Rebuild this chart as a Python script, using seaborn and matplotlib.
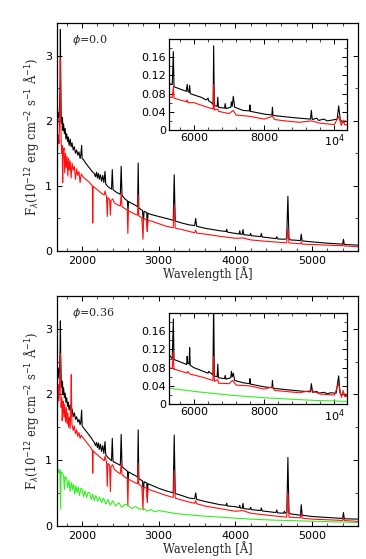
import matplotlib
matplotlib.use("Agg")
import matplotlib.pyplot as plt
import seaborn as sns
from matplotlib.ticker import MultipleLocator, FixedLocator, FixedFormatter

# ---- panel 1 (phi = 0.0), UV/optical ----
wl_black_0 = [1675, 1680, 1690, 1700, 1708, 1714, 1718, 1722, 1728, 1735, 1745, 1752, 1760, 1770,
              1780, 1790, 1800, 1812, 1820, 1832, 1845, 1858, 1870, 1885, 1900, 1915, 1930, 1945,
              1960, 1975, 1985, 1995, 2002, 2020, 2040, 2060, 2080, 2100, 2120, 2140, 2160, 2175,
              2190, 2200, 2215, 2225, 2240, 2255, 2270, 2285, 2300, 2310, 2330, 2345, 2385, 2395,
              2405, 2450, 2500, 2511, 2522, 2560, 2592, 2600, 2608, 2650, 2700, 2725, 2733, 2741,
              2790, 2800, 2810, 2845, 2852, 2860, 2900, 3000, 3100, 3190, 3203, 3216, 3300, 3400,
              3470, 3483, 3496, 3600, 3700, 3800, 3880, 3888, 3896, 4000, 4050, 4058, 4066, 4090,
              4100, 4110, 4190, 4200, 4210, 4330, 4340, 4350, 4530, 4541, 4552, 4640, 4670, 4686,
              4700, 4720, 4850, 4860, 4872, 5000, 5200, 5400, 5411, 5422, 5600]
fl_black_0 = [2.02, 1.90, 2.12, 2.05, 2.25, 2.60, 3.40, 2.70, 2.10, 1.95, 2.05, 1.85, 1.95, 1.80,
              1.88, 1.72, 1.80, 1.68, 1.75, 1.62, 1.72, 1.60, 1.66, 1.55, 1.60, 1.50, 1.55, 1.47,
              1.52, 1.42, 1.48, 1.62, 1.42, 1.40, 1.36, 1.33, 1.30, 1.27, 1.24, 1.21, 1.19, 1.14,
              1.21, 1.12, 1.19, 1.10, 1.17, 1.07, 1.16, 1.05, 1.22, 1.03, 1.00, 0.98, 0.95, 1.25,
              0.94, 0.90, 0.87, 1.30, 0.85, 0.80, 0.77, 0.62, 0.76, 0.73, 0.70, 0.68, 1.35, 0.66,
              0.62, 0.42, 0.61, 0.59, 0.30, 0.58, 0.56, 0.53, 0.50, 0.47, 1.17, 0.46, 0.43, 0.40,
              0.39, 0.50, 0.38, 0.35, 0.33, 0.31, 0.30, 0.33, 0.29, 0.27, 0.26, 0.31, 0.26, 0.255,
              0.33, 0.25, 0.24, 0.27, 0.235, 0.22, 0.27, 0.215, 0.19, 0.22, 0.185, 0.18, 0.19, 0.84,
              0.19, 0.17, 0.16, 0.26, 0.155, 0.14, 0.12, 0.105, 0.18, 0.10, 0.09]

wl_red_0 = [1675, 1680, 1690, 1700, 1708, 1714, 1718, 1722, 1728, 1735, 1742, 1748, 1754, 1765,
            1775, 1785, 1795, 1805, 1815, 1825, 1835, 1845, 1858, 1870, 1885, 1900, 1915, 1930,
            1945, 1960, 1975, 1990, 2000, 2020, 2040, 2060, 2080, 2100, 2120, 2135, 2140, 2146,
            2170, 2200, 2230, 2260, 2290, 2300, 2320, 2330, 2338, 2360, 2370, 2378, 2400, 2420,
            2460, 2500, 2511, 2522, 2560, 2590, 2598, 2606, 2650, 2700, 2725, 2733, 2741, 2780,
            2796, 2804, 2840, 2852, 2860, 2900, 3000, 3100, 3190, 3203, 3216, 3300, 3400, 3470,
            3483, 3496, 3600, 3800, 4000, 4100, 4200, 4340, 4500, 4670, 4686, 4700, 4850, 4860,
            4872, 5000, 5200, 5400, 5411, 5422, 5600]
fl_red_0 = [1.70, 1.55, 1.78, 1.65, 2.00, 2.30, 2.95, 2.20, 1.70, 1.50, 1.62, 1.05, 1.50, 1.58,
            1.20, 1.50, 1.28, 1.45, 1.15, 1.42, 1.24, 1.38, 1.12, 1.35, 1.24, 1.30, 1.10, 1.26,
            1.16, 1.22, 1.05, 1.18, 1.16, 1.13, 1.11, 1.09, 1.07, 1.05, 1.02, 1.00, 0.43, 0.99,
            0.97, 0.94, 0.91, 0.88, 0.86, 0.92, 0.83, 0.53, 0.82, 0.79, 0.55, 0.77, 0.80, 0.74,
            0.71, 0.69, 0.88, 0.68, 0.65, 0.63, 0.27, 0.62, 0.59, 0.56, 0.55, 0.86, 0.54, 0.51,
            0.18, 0.50, 0.48, 0.30, 0.47, 0.46, 0.42, 0.38, 0.355, 0.71, 0.35, 0.33, 0.30, 0.28,
            0.32, 0.275, 0.26, 0.225, 0.195, 0.20, 0.17, 0.155, 0.14, 0.125, 0.35, 0.125, 0.11, 0.14,
            0.105, 0.10, 0.09, 0.08, 0.10, 0.078, 0.065]

# ---- panel 1 inset (red/near-IR) ----
wl_black_0i = [5290, 5380, 5411, 5430, 5600, 5780, 5805, 5830, 5860, 5876, 5895, 6000, 6200, 6350,
               6400, 6420, 6500, 6545, 6560, 6580, 6660, 6678, 6696, 6870, 6890, 6910, 7050, 7065,
               7090, 7120, 7160, 7400, 7580, 7593, 7610, 8000, 8220, 8236, 8252, 8600, 9000, 9320,
               9345, 9370, 9500, 9550, 9700, 9800, 9950, 10080, 10124, 10170, 10250, 10300, 10360]
fl_black_0i = [0.102, 0.100, 0.172, 0.095, 0.090, 0.085, 0.100, 0.084, 0.083, 0.098, 0.080, 0.077,
               0.072, 0.066, 0.070, 0.064, 0.060, 0.056, 0.185, 0.054, 0.052, 0.072, 0.050, 0.048,
               0.058, 0.047, 0.050, 0.062, 0.052, 0.074, 0.050, 0.043, 0.042, 0.055, 0.041, 0.035,
               0.033, 0.050, 0.032, 0.029, 0.026, 0.024, 0.043, 0.023, 0.026, 0.021, 0.024, 0.020,
               0.022, 0.024, 0.053, 0.022, 0.016, 0.020, 0.018]
wl_red_0i = [5290, 5380, 5411, 5430, 5600, 5790, 5805, 5830, 6000, 6300, 6545, 6560, 6580, 6678,
             6700, 7000, 7120, 7200, 7593, 8000, 8236, 8300, 8600, 9000, 9345, 9600, 10000, 10124,
             10200, 10250, 10300, 10360]
fl_red_0i = [0.073, 0.071, 0.095, 0.070, 0.066, 0.062, 0.066, 0.060, 0.060, 0.052, 0.046, 0.100,
             0.044, 0.046, 0.041, 0.036, 0.043, 0.033, 0.030, 0.024, 0.030, 0.023, 0.020, 0.017,
             0.020, 0.015, 0.012, 0.030, 0.010, 0.022, 0.011, 0.012]

# ---- panel 2 (phi = 0.36), UV/optical ----
wl_black_1 = [1675, 1680, 1690, 1700, 1708, 1714, 1718, 1722, 1728, 1735, 1745, 1752, 1760, 1770,
              1780, 1790, 1800, 1812, 1820, 1832, 1845, 1858, 1870, 1885, 1900, 1915, 1930, 1945,
              1960, 1975, 1985, 1995, 2002, 2020, 2040, 2060, 2080, 2100, 2120, 2140, 2160, 2175,
              2190, 2200, 2215, 2225, 2240, 2255, 2270, 2285, 2300, 2310, 2330, 2345, 2385, 2395,
              2405, 2450, 2500, 2511, 2522, 2560, 2592, 2600, 2608, 2650, 2700, 2725, 2733, 2741,
              2790, 2800, 2810, 2845, 2852, 2860, 2900, 3000, 3100, 3190, 3203, 3216, 3300, 3400,
              3470, 3483, 3496, 3600, 3700, 3800, 3880, 3888, 3896, 4000, 4050, 4058, 4066, 4090,
              4100, 4110, 4190, 4200, 4210, 4330, 4340, 4350, 4530, 4541, 4552, 4630, 4640, 4650,
              4672, 4686, 4700, 4720, 4850, 4860, 4872, 5000, 5200, 5400, 5411, 5422, 5600]
fl_black_1 = [2.35, 2.20, 2.40, 2.25, 2.40, 2.70, 3.12, 2.60, 2.25, 2.10, 2.20, 2.00, 2.10, 1.95,
              2.02, 1.88, 1.95, 1.82, 1.88, 1.76, 1.84, 1.72, 1.78, 1.66, 1.72, 1.62, 1.66, 1.58,
              1.62, 1.54, 1.58, 1.76, 1.52, 1.49, 1.46, 1.43, 1.40, 1.37, 1.34, 1.30, 1.27, 1.22,
              1.27, 1.19, 1.26, 1.16, 1.24, 1.13, 1.22, 1.10, 1.28, 1.08, 1.05, 1.03, 0.99, 1.33,
              0.98, 0.95, 0.92, 1.39, 0.90, 0.86, 0.83, 0.66, 0.82, 0.79, 0.76, 0.74, 1.46, 0.72,
              0.68, 0.48, 0.67, 0.65, 0.40, 0.64, 0.62, 0.57, 0.53, 0.50, 1.38, 0.49, 0.46, 0.42,
              0.41, 0.50, 0.40, 0.37, 0.345, 0.32, 0.31, 0.34, 0.30, 0.29, 0.275, 0.31, 0.27, 0.265,
              0.34, 0.26, 0.25, 0.28, 0.245, 0.23, 0.27, 0.225, 0.20, 0.24, 0.195, 0.19, 0.22, 0.19,
              0.20, 1.04, 0.20, 0.18, 0.16, 0.32, 0.16, 0.14, 0.125, 0.11, 0.20, 0.105, 0.10]

wl_red_1 = [1675, 1680, 1690, 1700, 1708, 1714, 1718, 1722, 1728, 1735, 1742, 1748, 1754, 1765,
            1775, 1785, 1795, 1805, 1815, 1825, 1835, 1845, 1852, 1860, 1868, 1885, 1900, 1915,
            1930, 1945, 1960, 1975, 1990, 2000, 2020, 2040, 2060, 2080, 2100, 2120, 2135, 2140,
            2146, 2170, 2200, 2230, 2260, 2290, 2300, 2320, 2330, 2338, 2360, 2370, 2378, 2400,
            2420, 2460, 2500, 2511, 2522, 2560, 2590, 2598, 2606, 2650, 2700, 2725, 2733, 2741,
            2780, 2796, 2804, 2840, 2852, 2860, 2900, 3000, 3100, 3190, 3203, 3216, 3300, 3400,
            3470, 3483, 3496, 3600, 3800, 4000, 4100, 4200, 4340, 4500, 4670, 4686, 4700, 4850,
            4860, 4872, 5000, 5200, 5400, 5411, 5422, 5600]
fl_red_1 = [2.05, 1.80, 2.15, 1.90, 2.20, 2.35, 2.62, 2.10, 1.80, 1.95, 1.60, 1.75, 1.90, 1.65,
            1.85, 1.58, 1.80, 1.55, 1.72, 1.50, 1.65, 1.48, 1.70, 2.30, 1.55, 1.45, 1.52, 1.40,
            1.46, 1.36, 1.42, 1.33, 1.38, 1.36, 1.33, 1.30, 1.27, 1.24, 1.21, 1.18, 1.15, 0.80,
            1.14, 1.11, 1.08, 1.05, 1.02, 0.99, 1.06, 0.97, 0.60, 0.95, 0.92, 0.52, 0.90, 0.93,
            0.86, 0.82, 0.79, 0.95, 0.78, 0.74, 0.72, 0.30, 0.71, 0.68, 0.65, 0.64, 0.95, 0.63,
            0.60, 0.24, 0.59, 0.57, 0.35, 0.56, 0.54, 0.50, 0.46, 0.43, 0.84, 0.42, 0.39, 0.36,
            0.34, 0.38, 0.335, 0.30, 0.26, 0.22, 0.23, 0.19, 0.17, 0.15, 0.13, 0.50, 0.13, 0.12,
            0.18, 0.115, 0.10, 0.09, 0.08, 0.12, 0.078, 0.065]

wl_green_1 = [1675, 1690, 1700, 1712, 1720, 1728, 1745, 1760, 1770, 1780, 1800, 1812, 1830, 1845,
              1860, 1875, 1890, 1905, 1920, 1935, 1950, 1967, 1985, 2000, 2020, 2040, 2060, 2080,
              2100, 2120, 2140, 2160, 2180, 2205, 2230, 2255, 2280, 2310, 2340, 2370, 2400, 2440,
              2480, 2520, 2560, 2600, 2650, 2700, 2750, 2800, 2850, 2900, 2950, 3000, 3100, 3200,
              3300, 3400, 3500, 3600, 3800, 4000, 4200, 4500, 4800, 5000, 5300, 5600]
fl_green_1 = [0.88, 0.86, 0.80, 0.85, 0.25, 0.82, 0.80, 0.76, 0.55, 0.75, 0.72, 0.58, 0.69, 0.52,
              0.66, 0.55, 0.63, 0.48, 0.61, 0.50, 0.59, 0.46, 0.57, 0.56, 0.44, 0.53, 0.43, 0.51,
              0.50, 0.40, 0.48, 0.38, 0.46, 0.37, 0.44, 0.35, 0.42, 0.33, 0.40, 0.31, 0.38, 0.30,
              0.35, 0.28, 0.33, 0.31, 0.26, 0.29, 0.25, 0.27, 0.22, 0.245, 0.21, 0.23, 0.21, 0.19,
              0.175, 0.165, 0.155, 0.145, 0.13, 0.115, 0.10, 0.085, 0.075, 0.068, 0.058, 0.05]

# ---- panel 2 inset ----
wl_black_1i = [5290, 5380, 5411, 5430, 5600, 5790, 5805, 5820, 5860, 5876, 5892, 6000, 6200, 6400,
               6420, 6540, 6560, 6580, 6660, 6678, 6696, 6870, 6890, 6910, 7050, 7065, 7090, 7120,
               7160, 7400, 7580, 7593, 7610, 8000, 8220, 8236, 8252, 8600, 9000, 9320, 9345, 9380,
               9500, 9550, 9700, 9800, 9900, 10050, 10124, 10160, 10200, 10300, 10360]
fl_black_1i = [0.108, 0.100, 0.187, 0.098, 0.093, 0.087, 0.105, 0.090, 0.088, 0.124, 0.085, 0.080,
               0.074, 0.068, 0.072, 0.064, 0.230, 0.062, 0.060, 0.088, 0.058, 0.056, 0.063, 0.055,
               0.058, 0.072, 0.060, 0.068, 0.052, 0.047, 0.045, 0.056, 0.044, 0.038, 0.036, 0.052,
               0.035, 0.032, 0.029, 0.027, 0.045, 0.026, 0.028, 0.024, 0.026, 0.023, 0.025, 0.024,
               0.062, 0.025, 0.020, 0.022, 0.020]
wl_red_1i = [5290, 5380, 5411, 5425, 5600, 5800, 5820, 5880, 6000, 6300, 6540, 6560, 6580, 6678,
             6700, 7000, 7100, 7200, 7593, 8000, 8236, 8300, 8600, 9000, 9345, 9600, 10000, 10124,
             10200, 10250, 10300, 10360]
fl_red_1i = [0.080, 0.078, 0.115, 0.077, 0.073, 0.068, 0.072, 0.066, 0.064, 0.058, 0.052, 0.105,
             0.050, 0.054, 0.046, 0.045, 0.052, 0.042, 0.040, 0.033, 0.038, 0.030, 0.028, 0.025,
             0.030, 0.022, 0.020, 0.045, 0.015, 0.030, 0.016, 0.018]
wl_green_1i = [5290, 5600, 6000, 6500, 7000, 7500, 8000, 8500, 9000, 9500, 10000, 10360]
fl_green_1i = [0.035, 0.032, 0.028, 0.024, 0.020, 0.017, 0.014, 0.012, 0.010, 0.008, 0.007, 0.006]

sns.set_style("ticks")
plt.rcParams['font.family'] = ['DejaVu Sans']
plt.rcParams['xtick.direction'] = 'in'
plt.rcParams['ytick.direction'] = 'in'
plt.rcParams['xtick.top'] = True
plt.rcParams['ytick.right'] = True

BLACK = "#000000"
RED = "#ff1010"
GREEN = "#33ee22"
LW = 0.8

fig = plt.figure(figsize=(3.66, 5.59), dpi=100)


def style_axes(ax, fs=8):
    for s in ax.spines.values():
        s.set_linewidth(0.9)
        s.set_color("black")
    ax.tick_params(which="major", length=3.5, width=0.7, labelsize=fs, colors="black")
    ax.tick_params(which="minor", length=2, width=0.6)
    ax.set_xlabel("")
    ax.set_ylabel("")


def draw(ax, x, y, color):
    sns.lineplot(x=x, y=y, ax=ax, color=color, lw=LW, estimator=None, sort=False)


def main_panel(rect, series, phase):
    ax = fig.add_axes(rect)
    for x, y, c in series:
        draw(ax, x, y, c)
    ax.set_xlim(1675, 5600)
    ax.set_ylim(0, 3.5)
    ax.xaxis.set_major_locator(MultipleLocator(1000))
    ax.xaxis.set_minor_locator(MultipleLocator(200))
    ax.yaxis.set_major_locator(MultipleLocator(1))
    ax.yaxis.set_minor_locator(MultipleLocator(0.5))
    style_axes(ax)
    ax.set_xlabel("Wavelength [Å]", family="DejaVu Serif", fontsize=8.3, labelpad=0.5)
    ax.set_ylabel(r"F$_\lambda$(10$^{-12}$ erg cm$^{-2}$ s$^{-1}$ Å$^{-1}$)",
                  family="DejaVu Serif", fontsize=8.3, labelpad=3)
    ax.text(0.05, 0.955, phase, transform=ax.transAxes, ha="left", va="top",
            fontsize=8, family="DejaVu Serif")
    return ax


def inset_panel(rect, series):
    ax = fig.add_axes(rect)
    for x, y, c in series:
        draw(ax, x, y, c)
    ax.set_xlim(5290, 10360)
    ax.set_ylim(0, 0.2)
    ax.xaxis.set_major_locator(FixedLocator([6000, 8000, 10000]))
    ax.xaxis.set_major_formatter(FixedFormatter(["6000", "8000", r"10$^4$"]))
    ax.xaxis.set_minor_locator(MultipleLocator(400))
    ax.yaxis.set_major_locator(FixedLocator([0, 0.04, 0.08, 0.12, 0.16]))
    ax.yaxis.set_major_formatter(FixedFormatter(["0", "0.04", "0.08", "0.12", "0.16"]))
    ax.yaxis.set_minor_locator(MultipleLocator(0.02))
    style_axes(ax)
    ax.tick_params(axis="both", pad=2)
    return ax


main_panel([0.156, 0.551, 0.822, 0.408],
           [(wl_black_0, fl_black_0, BLACK), (wl_red_0, fl_red_0, RED)], r"$\phi$=0.0")
inset_panel([0.462, 0.7674, 0.486, 0.163],
            [(wl_black_0i, fl_black_0i, BLACK), (wl_red_0i, fl_red_0i, RED)])

main_panel([0.156, 0.0596, 0.822, 0.411],
           [(wl_black_1, fl_black_1, BLACK), (wl_red_1, fl_red_1, RED),
            (wl_green_1, fl_green_1, GREEN)], r"$\phi$=0.36")
inset_panel([0.462, 0.277, 0.486, 0.163],
            [(wl_black_1i, fl_black_1i, BLACK), (wl_red_1i, fl_red_1i, RED),
             (wl_green_1i, fl_green_1i, GREEN)])

fig.savefig("out.png", dpi=100)
